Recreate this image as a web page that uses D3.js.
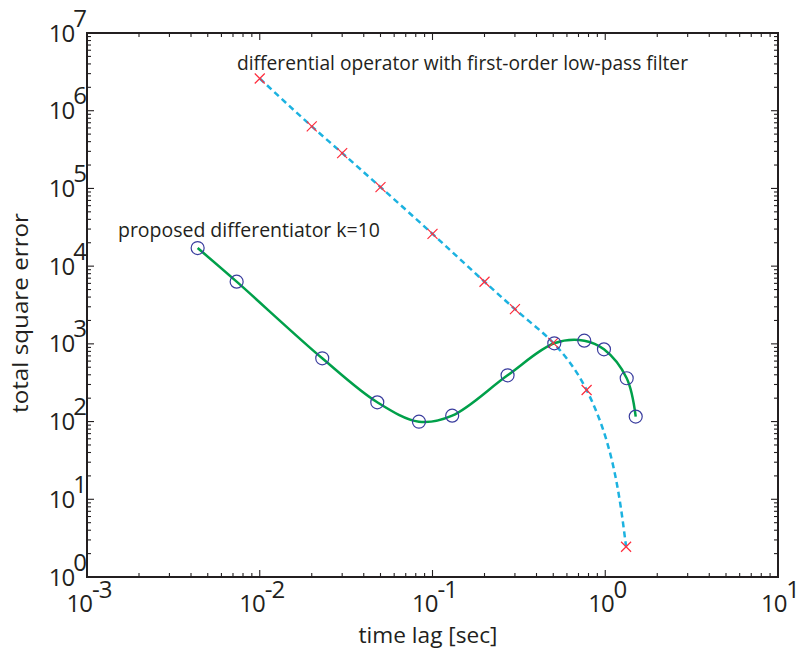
<!DOCTYPE html>
<html>
<head>
<meta charset="utf-8">
<script src="https://cdn.jsdelivr.net/npm/d3@7/dist/d3.min.js"></script>
<style>
  html, body { margin: 0; padding: 0; background: #fff; }
  svg { display: block; }
  text { font-family: "Open Sans", sans-serif; fill: #231f20; }
</style>
</head>
<body>
<svg id="chart" width="801" height="654"></svg>
<script>
// ---- data ----
const filterX = [0.01, 0.02, 0.03, 0.05, 0.1, 0.2, 0.3, 0.5, 0.78, 1.32];
const filterY = [2.6e6, 6.3e5, 2.85e5, 1.04e5, 2.6e4, 6.3e3, 2.8e3, 1.03e3, 255, 2.45];

const proposedX = [0.00437, 0.00735, 0.0230, 0.0479, 0.0835, 0.130, 0.272, 0.507, 0.756, 0.983, 1.331, 1.501];
const proposedY = [1.71e4, 6.31e3, 652, 177, 99.6, 119, 394, 1017, 1099, 851, 361, 116];

const xTickExps = [-3, -2, -1, 0, 1];
const yTickExps = [0, 1, 2, 3, 4, 5, 6, 7];

const xLabel = "time lag [sec]";
const yLabel = "total square error";
const filterLabel = "differential operator with first-order low-pass filter";
const proposedLabel = "proposed differentiator k=10";

(function () {
// ---- layout ----
const mLeft = 87, mRight = 778, mTop = 33, mBottom = 577;
const svg = d3.select("#chart");

const x = d3.scaleLog().domain([1e-3, 1e1]).range([mLeft, mRight]);
const y = d3.scaleLog().domain([1e0, 1e7]).range([mBottom, mTop]);

const axisColor = "#231f20";

function logTicks(minE, maxE) {
  const out = [];
  for (let e = minE; e < maxE; e++) {
    for (let m = 1; m < 10; m++) out.push({v: m * Math.pow(10, e), major: m === 1});
  }
  out.push({v: Math.pow(10, maxE), major: true});
  return out;
}
const xt = logTicks(-3, 1);
const yt = logTicks(0, 7);
const majL = 7, minL = 4;
const tg = svg.append("g").attr("stroke", axisColor).attr("stroke-width", 1.1);
xt.forEach(t => {
  const px = x(t.v), L = t.major ? majL : minL;
  tg.append("line").attr("x1", px).attr("x2", px).attr("y1", mBottom).attr("y2", mBottom - L);
  tg.append("line").attr("x1", px).attr("x2", px).attr("y1", mTop).attr("y2", mTop + L);
});
yt.forEach(t => {
  const py = y(t.v), L = t.major ? majL : minL;
  tg.append("line").attr("y1", py).attr("y2", py).attr("x1", mLeft).attr("x2", mLeft + L);
  tg.append("line").attr("y1", py).attr("y2", py).attr("x1", mRight).attr("x2", mRight - L);
});

svg.append("rect").attr("x", mLeft).attr("y", mTop).attr("width", mRight - mLeft).attr("height", mBottom - mTop)
  .attr("fill", "none").attr("stroke", axisColor).attr("stroke-width", 2);

xTickExps.forEach(e => {
  const t = svg.append("text").attr("x", x(Math.pow(10, e)) + 2).attr("y", 612)
    .attr("text-anchor", "middle").attr("font-size", 24).style("letter-spacing", "-1px");
  t.append("tspan").text("10");
  t.append("tspan").attr("dy", -14).text(String(e));
});
yTickExps.forEach(e => {
  const t = svg.append("text").attr("x", 86).attr("y", y(Math.pow(10, e)) + 8.5)
    .attr("text-anchor", "end").attr("font-size", 24).style("letter-spacing", "-1px");
  t.append("tspan").text("10");
  t.append("tspan").attr("dy", -15).attr("dx", -1).text(String(e));
});

svg.append("text").attr("x", 428).attr("y", 643).attr("text-anchor", "middle")
  .attr("font-size", 21).attr("textLength", 139).attr("lengthAdjust", "spacingAndGlyphs").text(xLabel);
svg.append("text").attr("transform", "translate(28,313) rotate(-90)").attr("text-anchor", "middle")
  .attr("font-size", 21).attr("textLength", 200).attr("lengthAdjust", "spacingAndGlyphs").text(yLabel);

svg.append("text").attr("x", 237).attr("y", 70).attr("font-size", 20)
  .attr("textLength", 451).attr("lengthAdjust", "spacingAndGlyphs").text(filterLabel);
svg.append("text").attr("x", 118).attr("y", 237).attr("font-size", 20)
  .attr("textLength", 262).attr("lengthAdjust", "spacingAndGlyphs").text(proposedLabel);

const filterPts = filterX.map((v, i) => [v, filterY[i]]);
const proposedPts = proposedX.map((v, i) => [v, proposedY[i]]);

const filterLine = d3.line().x(d => x(d[0])).y(d => y(d[1])).curve(d3.curveMonotoneY);
const propLine = d3.line().x(d => x(d[0])).y(d => y(d[1])).curve(d3.curveCatmullRom.alpha(0.5));

svg.append("path").datum(filterPts).attr("d", filterLine).attr("fill", "none")
  .attr("stroke", "#1cb2e0").attr("stroke-width", 2.5).attr("stroke-dasharray", "6,4");

svg.append("path").datum(proposedPts).attr("d", propLine).attr("fill", "none")
  .attr("stroke", "#00a04a").attr("stroke-width", 2.5);

const s = 5;
svg.append("g").selectAll("path").data(filterPts).join("path")
  .attr("d", d => {
    const px = x(d[0]), py = y(d[1]);
    return `M${px - s},${py - s}L${px + s},${py + s}M${px - s},${py + s}L${px + s},${py - s}`;
  })
  .attr("stroke", "#ff2d3d").attr("stroke-width", 1.2).attr("fill", "none");

svg.append("g").selectAll("circle").data(proposedPts).join("circle")
  .attr("cx", d => x(d[0])).attr("cy", d => y(d[1])).attr("r", 6.5)
  .attr("fill", "none").attr("stroke", "#3a3d9e").attr("stroke-width", 1.2);
})();
</script>
</body>
</html>
